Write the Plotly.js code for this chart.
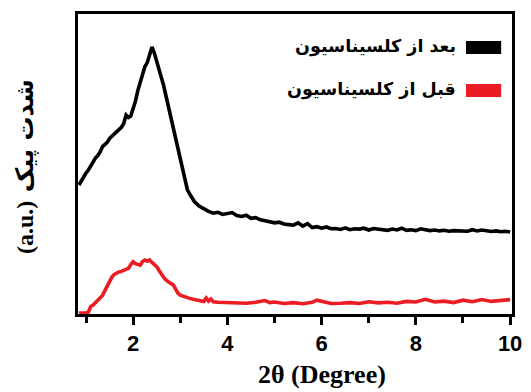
<!DOCTYPE html>
<html>
<head>
<meta charset="utf-8">
<script src="https://cdn.plot.ly/plotly-3.0.1.min.js"></script>
<style>html,body{margin:0;padding:0;background:#fff;}#chart{width:531px;height:392px;}</style>
</head>
<body>
<div id="chart"></div>
<script>
// 2θ values and intensities (arbitrary units)
const afterX = [0.85,0.9,0.95,1.0,1.05,1.1,1.15,1.2,1.25,1.3,1.35,1.4,1.45,1.5,1.55,1.6,1.65,1.7,1.75,1.8,1.85,1.9,1.95,2.0,2.05,2.1,2.15,2.2,2.25,2.3,2.35,2.4,2.45,2.5,2.55,2.6,2.65,2.7,2.75,2.8,2.85,2.9,2.95,3.0,3.05,3.1,3.15,3.2,3.25,3.3,3.4,3.5,3.6,3.7,3.8,3.9,4.0,4.1,4.2,4.3,4.4,4.5,4.6,4.7,4.8,4.9,5.0,5.1,5.2,5.3,5.4,5.5,5.6,5.7,5.8,5.9,6.0,6.1,6.2,6.3,6.4,6.5,6.6,6.7,6.8,6.9,7.0,7.1,7.2,7.3,7.4,7.5,7.6,7.7,7.8,7.9,8.0,8.1,8.2,8.3,8.4,8.5,8.6,8.7,8.8,8.9,9.0,9.1,9.2,9.3,9.4,9.5,9.6,9.7,9.8,9.9,10.0];
const afterY = [43,44.5,45.5,47,48,49.5,50.8,52,52.8,54,55.8,56.5,57.2,58.5,59.3,60.2,60.8,61.5,62.2,63.5,66.3,65.5,66,68.5,71,74.5,77.5,80.5,82.5,83.8,86,89,87,84.5,82,79,76,72.5,69,66,62.5,59.5,56,52.5,48.5,44.5,41.5,40,38.5,37.5,36,35,34.2,33.6,33.9,33.2,33.4,33.8,32.8,32.5,32.9,31.9,32.1,31.4,31.1,30.7,30.4,30.6,30.0,29.8,29.6,30.4,29.3,30.1,28.8,29.1,28.6,29.0,28.4,28.5,28.2,28.7,28.1,28.4,28.3,28.6,28.0,28.5,28.2,28.1,27.9,28.3,28.0,28.6,27.9,28.1,27.8,28.4,28.0,27.8,28.0,27.7,27.9,27.6,27.8,27.7,27.9,27.6,28.1,27.7,28.0,27.6,27.5,27.7,27.4,27.6,27.3];

const beforeX = [0.85,0.9,0.95,1.0,1.05,1.1,1.15,1.2,1.25,1.3,1.35,1.4,1.45,1.5,1.55,1.6,1.65,1.7,1.75,1.8,1.85,1.9,1.95,2.0,2.05,2.1,2.15,2.2,2.25,2.3,2.35,2.4,2.45,2.5,2.55,2.6,2.65,2.7,2.75,2.8,2.85,2.9,2.95,3.0,3.1,3.2,3.3,3.4,3.5,3.55,3.6,3.65,3.7,3.8,3.9,4.0,4.2,4.4,4.6,4.8,4.9,5.0,5.2,5.4,5.6,5.8,5.9,6.0,6.2,6.4,6.6,6.8,7.0,7.2,7.4,7.6,7.8,8.0,8.2,8.4,8.6,8.8,9.0,9.2,9.4,9.6,9.8,10.0];
const beforeY = [0.3,0.3,0.3,0.4,0.6,2.5,3.0,3.8,4.5,5.3,6.2,7.8,9.5,11,12.3,13.2,13.7,14,14.2,14.6,15,15.2,16.5,17.4,16.8,16.5,16.3,17.5,18,17.6,18,17.2,16.5,15.8,14.5,13.2,12.2,11.3,10.6,10.2,9.7,8.2,7,6.3,5.6,5.2,4.8,4.5,4.2,5.3,4.3,5.0,4.1,3.9,3.8,3.7,3.8,3.6,3.9,4.5,3.8,4.0,3.5,3.8,3.4,3.9,4.6,4.2,3.5,3.6,3.8,3.5,4.1,3.7,3.9,3.6,4.2,4.0,4.9,4.0,4.3,3.8,4.6,4.1,4.8,4.2,4.6,4.8];

const xTicks = [2,4,6,8,10];
const legendAfter = 'بعد از کلسیناسیون';
const legendBefore = 'قبل از کلسیناسیون';
const xTitle = '2θ (Degree)';
const yTitleUnit = '(a.u.)';
const yTitleWords = 'شدت پیک';

const black = '#000000';
const red = '#ec1c24';

const traces = [
  {x: afterX, y: afterY, type: 'scatter', mode: 'lines', line: {color: black, width: 3.6}, showlegend: false, hoverinfo: 'skip'},
  {x: beforeX, y: beforeY, type: 'scatter', mode: 'lines', line: {color: red, width: 3.6}, showlegend: false, hoverinfo: 'skip'}
];

const arabicFont = {family: 'DejaVu Sans, Noto Sans, sans-serif', size: 17.5, color: '#000', weight: 'bold'};

const layout = {
  width: 531, height: 392,
  margin: {l: 78, r: 19, t: 14, b: 78},
  paper_bgcolor: '#fff', plot_bgcolor: '#fff',
  showlegend: false,
  xaxis: {
    range: [0.83, 10.04],
    tickvals: xTicks,
    ticktext: xTicks.map(String),
    ticks: 'outside', ticklen: 8, tickwidth: 3, tickcolor: '#000',
    minor: {tickvals: [1,3,5,7,9], ticks: 'outside', ticklen: 6, tickwidth: 3, tickcolor: '#000'},
    showline: true, linewidth: 3, linecolor: '#000', mirror: true,
    showgrid: false, zeroline: false,
    tickfont: {family: 'Liberation Sans, Arial, sans-serif', size: 22, color: '#000', weight: 'bold'}
  },
  yaxis: {
    range: [0, 100],
    showticklabels: false, ticks: '',
    showline: true, linewidth: 3, linecolor: '#000', mirror: true,
    showgrid: false, zeroline: false
  },
  shapes: [
    {type: 'rect', xref: 'paper', yref: 'paper', x0: 0.894, x1: 0.975, y0: 0.867, y1: 0.91, fillcolor: black, line: {width: 0}},
    {type: 'rect', xref: 'paper', yref: 'paper', x0: 0.894, x1: 0.975, y0: 0.723, y1: 0.767, fillcolor: red, line: {width: 0}}
  ],
  annotations: [
    {text: legendAfter, xref: 'paper', yref: 'paper', x: 0.876, y: 0.89, xanchor: 'right', yanchor: 'middle', showarrow: false, font: arabicFont},
    {text: legendBefore, xref: 'paper', yref: 'paper', x: 0.876, y: 0.75, xanchor: 'right', yanchor: 'middle', showarrow: false, font: arabicFont},
    {text: xTitle, xref: 'paper', yref: 'paper', x: 0.562, y: -0.257, xanchor: 'center', yanchor: 'bottom', showarrow: false,
     font: {family: 'Liberation Serif, Times New Roman, serif', size: 26, color: '#000', weight: 'bold'}},
    {text: '<span style="font-family:Liberation Serif">' + yTitleUnit + '</span> ' + yTitleWords,
     xref: 'paper', yref: 'paper', x: -0.122, y: 0.49, xanchor: 'center', yanchor: 'middle', showarrow: false, textangle: -90,
     font: {family: 'DejaVu Sans, serif', size: 24, color: '#000', weight: 'bold'}}
  ]
};

Plotly.newPlot('chart', traces, layout, {staticPlot: true, displayModeBar: false});
</script>
</body>
</html>
